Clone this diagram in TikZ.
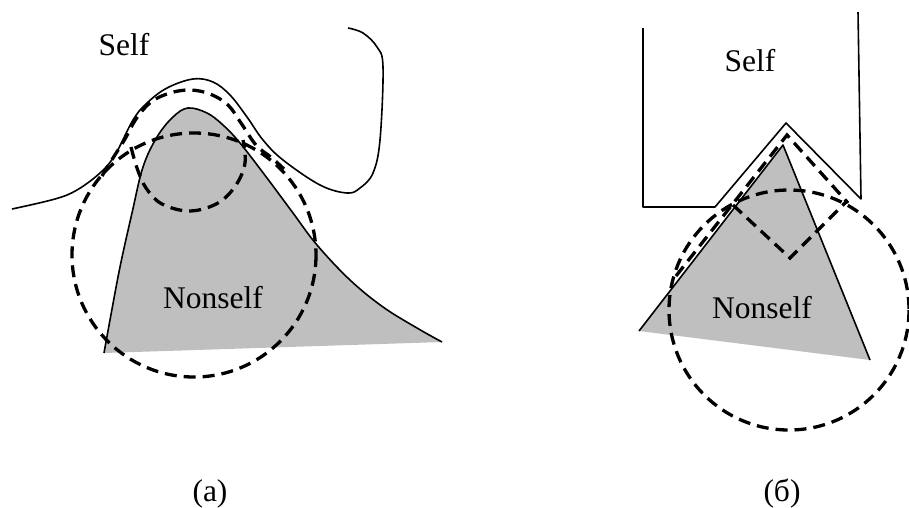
\documentclass[tikz,border=0pt]{standalone}
\usepackage{fontspec}
\setmainfont{Liberation Serif}
\usetikzlibrary{positioning}

\begin{document}
\begin{tikzpicture}[
        x=1pt, y=-1pt,
        selfline/.style={draw=black, line width=1.6pt, line join=round},
        nonselfarea/.style={fill=black!25},
        detector/.style={draw=black, line width=3.3pt, dash pattern=on 12pt off 7pt},
        lbl/.style={font=\fontsize{31.5}{36}\selectfont, inner sep=0pt}
    ]
    \useasboundingbox (0,0) rectangle (909,507);

    % --- Panel (a): curved self / nonself ---
    \fill[nonselfarea] plot[smooth, tension=0.6] coordinates {(104,353) (110,320) (120,267) (132,213) (143,167) (157,137) (173,117) (188,108) (207,113) (223,125) (240,143) (267,178) (293,213) (317,245) (350,280) (383,307) (417,328) (442,342)} -- cycle;
    \draw[selfline] plot[smooth, tension=0.6] coordinates {(104,353) (110,320) (120,267) (132,213) (143,167) (157,137) (173,117) (188,108) (207,113) (223,125) (240,143) (267,178) (293,213) (317,245) (350,280) (383,307) (417,328) (442,342)};
    \draw[selfline] plot[smooth, tension=0.6] coordinates {(12,209) (55,199) (77,190) (100,173) (115,155) (133,120) (147,103) (167,88) (193,79) (213,82) (230,95) (247,117) (263,140) (283,160) (320,185) (347,193) (360,188) (373,173) (380,140) (383,67) (377,47) (363,33) (348,28)};

    % detectors
    \draw[detector] (194,255) circle[radius=122];
    \draw[detector] plot[smooth, tension=0.6] coordinates {(102,176) (113,158) (125,139) (136,119) (151,102) (170,93) (190,90) (210,94) (228,105) (241,123) (256,145) (272,158) (284,169)};
    \draw[detector] plot[smooth, tension=0.6] coordinates {(131,147) (137,168) (146,188) (162,204) (190,211) (218,203) (236,185) (245,163) (243,140)};

    \node[lbl] (selfA) at (124,45) {Self};
    \node[lbl] (nonselfA) at (213,298) {Nonself};
    \node[lbl] (capA) at (210,494) {(a)};

    % --- Panel (b): polygonal self / nonself ---
    \fill[nonselfarea] (639,331) -- (783,145) -- (870,360) -- cycle;
    \draw[selfline] (639,331) -- (783,145) -- (870,360);
    \draw[selfline] (643,28) -- (643,207) -- (715,207) -- (786,123) -- (861,199) -- (858,12);

    % detectors
    \draw[detector] (789,310) circle[radius=120];
    \draw[detector, line join=miter] (676,276) -- (787,135) -- (848,203);
    \draw[detector, line join=miter] (733,205) -- (790,258) -- (846,202);

    \node[lbl] (selfB) at (750,61) {Self};
    \node[lbl] (nonselfB) at (762,308) {Nonself};
    \node[lbl] (capB) at (782,494) {(б)};
\end{tikzpicture}
\end{document}
